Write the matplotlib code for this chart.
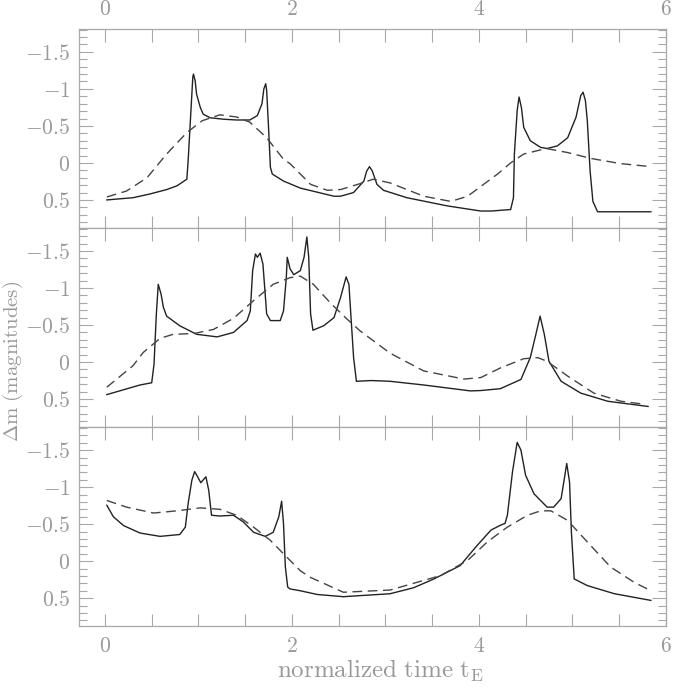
import matplotlib.pyplot as plt
from matplotlib.ticker import MultipleLocator, FuncFormatter

plt.rcParams['mathtext.fontset'] = 'cm'
plt.rcParams['font.family'] = 'serif'
plt.rcParams['font.serif'] = ['cmr10', 'DejaVu Serif']

# panel 1 (top)
t1_solid = [0.02, 0.30, 0.48, 0.66, 0.77, 0.876, 0.89, 0.92, 0.94, 0.947, 0.965, 0.98, 1.02, 1.05, 1.125, 1.27, 1.41,
            1.55, 1.63, 1.68, 1.70, 1.72, 1.73, 1.75, 1.77, 1.79, 1.91, 2.09, 2.45, 2.52, 2.66, 2.77, 2.80,
            2.83, 2.86, 2.91, 2.98, 3.23, 3.66, 4.02, 4.13, 4.34, 4.37, 4.38, 4.41, 4.43, 4.455, 4.48, 4.55,
            4.66, 4.73, 4.84, 4.95, 5.04, 5.09, 5.115, 5.14, 5.16, 5.19, 5.22, 5.27, 5.52, 5.84]
dm1_solid = [0.50, 0.47, 0.42, 0.36, 0.31, 0.22, -0.03, -0.71, -1.16, -1.20, -1.11, -0.93, -0.75, -0.66, -0.61, -0.59, -0.58,
             -0.58, -0.64, -0.80, -1.00, -1.07, -0.98, -0.48, 0.06, 0.15, 0.245, 0.34, 0.45, 0.45, 0.40, 0.245, 0.11,
             0.05, 0.11, 0.29, 0.37, 0.47, 0.58, 0.65, 0.65, 0.63, 0.47, -0.12, -0.71, -0.89, -0.75, -0.48, -0.30,
             -0.21, -0.195, -0.23, -0.34, -0.62, -0.91, -0.955, -0.84, -0.57, 0.11, 0.52, 0.66, 0.66, 0.66]
t1_dash = [0.02, 0.23, 0.45, 0.66, 0.876, 1.04, 1.23, 1.41, 1.55, 1.73, 1.91, 1.98, 2.20, 2.38, 2.52, 2.73,
           2.87, 3.05, 3.41, 3.70, 3.88, 4.05, 4.20, 4.34, 4.48, 4.72, 4.95, 5.20, 5.52, 5.84]
dm1_dash = [0.46, 0.38, 0.20, -0.12, -0.41, -0.57, -0.65, -0.62, -0.55, -0.34, -0.05, 0.01, 0.29, 0.37, 0.36, 0.28,
            0.22, 0.27, 0.45, 0.52, 0.45, 0.29, 0.15, 0.0, -0.12, -0.195, -0.14, -0.06, 0.01, 0.05]

# panel 2 (middle)
t2_solid = [0.02, 0.375, 0.50, 0.525, 0.55, 0.57, 0.60, 0.625, 0.66, 0.80, 0.98, 1.20, 1.375, 1.52, 1.555, 1.58,
            1.61, 1.63, 1.66, 1.69, 1.73, 1.77, 1.875, 1.91, 1.94, 1.95, 1.98, 2.02, 2.09, 2.13, 2.16, 2.18,
            2.20, 2.225, 2.34, 2.45, 2.52, 2.58, 2.61, 2.63, 2.66, 2.69, 2.85, 3.05, 3.41, 3.91, 4.02, 4.23, 4.45,
            4.55, 4.61, 4.655, 4.70, 4.75, 4.88, 5.09, 5.38, 5.81]
dm2_solid = [0.44, 0.31, 0.28, 0.03, -0.65, -1.05, -0.92, -0.74, -0.62, -0.49, -0.375, -0.34, -0.40, -0.56, -0.69, -1.235,
             -1.46, -1.415, -1.47, -1.325, -0.65, -0.56, -0.56, -0.69, -1.14, -1.415, -1.26, -1.18, -1.235, -1.415, -1.69, -1.415,
             -0.65, -0.43, -0.49, -0.60, -0.87, -1.15, -1.05, -0.65, -0.06, 0.26, 0.25, 0.26, 0.31, 0.39, 0.385, 0.36, 0.235,
             -0.06, -0.375, -0.62, -0.375, -0.01, 0.26, 0.42, 0.53, 0.60]
t2_dash = [0.02, 0.30, 0.41, 0.59, 0.73, 0.95, 1.16, 1.375, 1.59, 1.80, 1.98, 2.09, 2.23, 2.41, 2.59, 2.73,
           3.05, 3.41, 3.84, 4.02, 4.23, 4.48, 4.63, 4.73, 4.95, 5.23, 5.52, 5.77]
dm2_dash = [0.34, 0.05, -0.13, -0.32, -0.375, -0.385, -0.44, -0.59, -0.83, -1.05, -1.14, -1.16, -1.05, -0.80, -0.58, -0.42,
            -0.12, 0.12, 0.23, 0.21, 0.08, -0.045, -0.06, -0.01, 0.19, 0.42, 0.53, 0.57]

# panel 3 (bottom)
t3_solid = [0.02, 0.09, 0.20, 0.375, 0.59, 0.80, 0.86, 0.89, 0.93, 0.96, 1.00, 1.025, 1.08, 1.11, 1.14, 1.23,
            1.375, 1.48, 1.59, 1.715, 1.80, 1.86, 1.89, 1.91, 1.93, 1.955, 1.98, 2.09, 2.27, 2.55, 3.05, 3.30, 3.52,
            3.80, 3.98, 4.13, 4.23, 4.28, 4.305, 4.36, 4.41, 4.45, 4.50, 4.59, 4.73, 4.80, 4.88, 4.92, 4.94,
            4.97, 4.99, 5.02, 5.16, 5.45, 5.84]
dm3_solid = [-0.755, -0.60, -0.48, -0.38, -0.335, -0.36, -0.46, -0.78, -1.095, -1.21, -1.12, -1.06, -1.14, -0.96, -0.62, -0.61,
             -0.62, -0.53, -0.39, -0.335, -0.39, -0.60, -0.81, -0.51, 0.08, 0.35, 0.375, 0.40, 0.45, 0.48, 0.44, 0.36, 0.24,
             0.06, -0.21, -0.42, -0.485, -0.51, -0.62, -1.21, -1.605, -1.50, -1.16, -0.91, -0.73, -0.73, -0.845, -1.16, -1.32,
             -1.07, -0.39, 0.24, 0.33, 0.44, 0.53]
t3_dash = [0.02, 0.23, 0.52, 0.77, 1.02, 1.23, 1.41, 1.59, 1.77, 1.91, 2.09, 2.20, 2.55, 3.05, 3.59, 3.88,
           4.09, 4.305, 4.52, 4.66, 4.77, 4.95, 5.16, 5.41, 5.66, 5.84]
dm3_dash = [-0.82, -0.73, -0.65, -0.68, -0.72, -0.70, -0.62, -0.46, -0.28, -0.10, 0.13, 0.22, 0.42, 0.39, 0.195, -0.01,
            -0.26, -0.46, -0.62, -0.68, -0.68, -0.55, -0.26, 0.08, 0.285, 0.40]

panels = [(t1_solid, dm1_solid, t1_dash, dm1_dash),
          (t2_solid, dm2_solid, t2_dash, dm2_dash),
          (t3_solid, dm3_solid, t3_dash, dm3_dash)]

gray = '#a8a8a8'
fig, axes = plt.subplots(3, 1, figsize=(6.85, 6.89), dpi=100, sharex=True,
                         gridspec_kw=dict(hspace=0))
fig.subplots_adjust(left=0.115, right=0.972, top=0.958, bottom=0.091)

for i, (ax, (ts, ms, td, md)) in enumerate(zip(axes, panels)):
    ax.plot(ts, ms, color='#222222', lw=1.0)
    ax.plot(td, md, color='#444444', lw=1.0, dashes=(7, 4))
    ax.set_xlim(-0.28, 6.0)
    ax.set_ylim(0.88, -1.81)
    ax.xaxis.set_major_locator(MultipleLocator(2))
    ax.xaxis.set_minor_locator(MultipleLocator(0.5))
    ax.yaxis.set_major_locator(MultipleLocator(0.5))
    ax.yaxis.set_minor_locator(MultipleLocator(0.1))
    ax.yaxis.set_major_formatter(FuncFormatter(lambda v, p: f'${v:g}$'))
    ax.xaxis.set_major_formatter(FuncFormatter(lambda v, p: f'${v:g}$'))
    for s in ax.spines.values():
        s.set_color(gray)
        s.set_linewidth(0.9)
    ax.tick_params(which='both', direction='in', top=True, right=True, color=gray,
                   labelcolor='#999999', labelsize=15.5, width=0.8)
    ax.tick_params(axis='y', which='major', length=10, pad=6)
    ax.tick_params(axis='y', which='minor', length=5.5)
    ax.tick_params(axis='x', which='both', length=9, pad=7)
    ax.tick_params(axis='x', labelbottom=(i == 2), labeltop=(i == 0))

fig.text(0.019, 0.475, r'$\Delta\mathrm{m\ (magnitudes)}$', rotation=90, ha='center', va='center',
         fontsize=15, color='#999999')
fig.text(0.555, 0.027, r'$\mathrm{normalized\ time\ t_E}$', ha='center', va='center',
         fontsize=18, color='#999999')

fig.savefig('out.png')
